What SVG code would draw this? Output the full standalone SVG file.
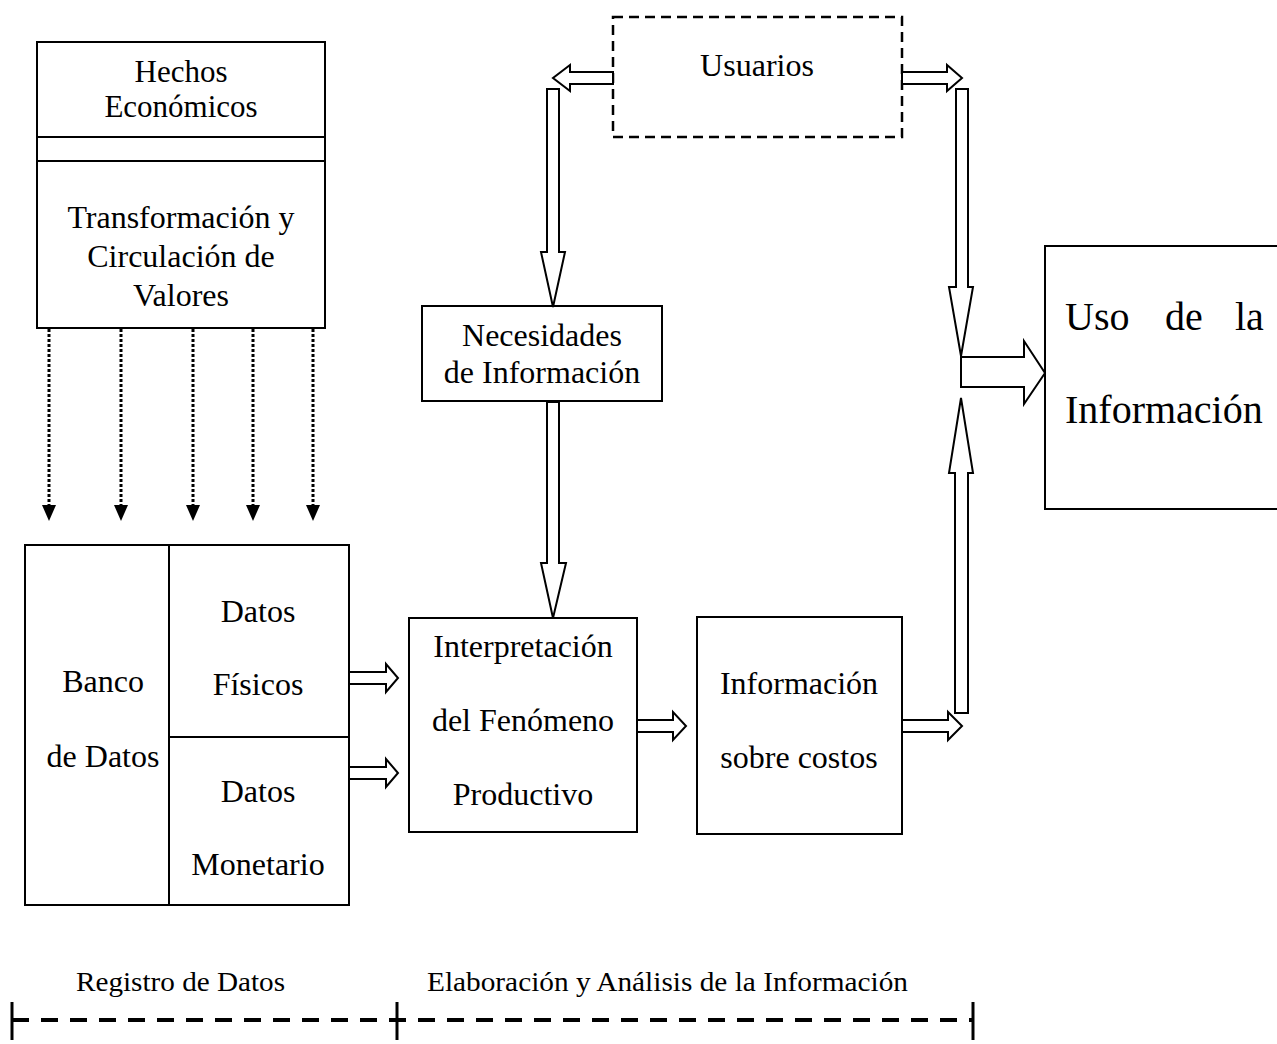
<svg xmlns="http://www.w3.org/2000/svg" width="1277" height="1044" viewBox="0 0 1277 1044">
<defs>
<style>
.box{fill:#fff;stroke:#000;stroke-width:2}
.dbox{fill:#fff;stroke:#000;stroke-width:2.5;stroke-dasharray:10 6}
.t{font-family:"Liberation Serif","Times New Roman",serif;font-size:32px;fill:#000;text-anchor:middle}
.s{font-size:31px}
.big{font-family:"Liberation Serif","Times New Roman",serif;font-size:40px;fill:#000}
.ft{font-family:"Liberation Serif","Times New Roman",serif;font-size:28px;fill:#000}
.hollow{fill:#fff;stroke:#000;stroke-width:2;stroke-linejoin:miter}
.dot{stroke:#000;stroke-width:3;stroke-dasharray:3 2;fill:none}
.ln{stroke:#000;stroke-width:2;fill:none}
</style>
<marker id="tri" markerWidth="16" markerHeight="14" refX="0" refY="7" orient="auto" markerUnits="userSpaceOnUse" viewBox="0 0 16 14">
<path d="M0,0 L16,7 L0,14 Z" fill="#000"/>
</marker>
</defs>
<rect width="1277" height="1044" fill="#fff"/>

<g id="hechos">
<rect class="box" x="37" y="42" width="288" height="286"/>
<line class="ln" x1="37" y1="137" x2="325" y2="137"/>
<line class="ln" x1="37" y1="161" x2="325" y2="161"/>
<text class="t s" x="181" y="82">Hechos</text>
<text class="t s" x="181" y="117">Económicos</text>
<text class="t" x="181" y="228">Transformación y</text>
<text class="t" x="181" y="267">Circulación de</text>
<text class="t" x="181" y="306">Valores</text>
</g>

<g id="usuarios">
<rect class="dbox" x="613" y="17" width="289" height="120"/>
<text class="t" x="757" y="76">Usuarios</text>
</g>

<g id="necesidades">
<rect class="box" x="422" y="306" width="240" height="95"/>
<text class="t" x="542" y="346">Necesidades</text>
<text class="t" x="542" y="383">de Información</text>
</g>

<g id="banco">
<rect class="box" x="25" y="545" width="324" height="360"/>
<line class="ln" x1="169" y1="545" x2="169" y2="905"/>
<line class="ln" x1="169" y1="737" x2="349" y2="737"/>
<text class="t" x="103" y="692">Banco</text>
<text class="t" x="103" y="767">de Datos</text>
<text class="t" x="258" y="622">Datos</text>
<text class="t" x="258" y="695">Físicos</text>
<text class="t" x="258" y="802">Datos</text>
<text class="t" x="258" y="875">Monetario</text>
</g>

<g id="interpretacion">
<rect class="box" x="409" y="618" width="228" height="214"/>
<text class="t" x="523" y="657">Interpretación</text>
<text class="t" x="523" y="731">del Fenómeno</text>
<text class="t" x="523" y="805">Productivo</text>
</g>

<g id="informacion">
<rect class="box" x="697" y="617" width="205" height="217"/>
<text class="t" x="799" y="694">Información</text>
<text class="t" x="799" y="768">sobre costos</text>
</g>

<g id="uso">
<rect class="box" x="1045" y="246" width="240" height="263"/>
<text class="big" x="1065" y="330">Uso</text>
<text class="big" x="1165" y="330">de</text>
<text class="big" x="1235" y="330">la</text>
<text class="big" x="1065" y="423">Información</text>
</g>

<g id="connectors">
<line class="dot" x1="49" y1="329" x2="49" y2="505" marker-end="url(#tri)"/>
<line class="dot" x1="121" y1="329" x2="121" y2="505" marker-end="url(#tri)"/>
<line class="dot" x1="193" y1="329" x2="193" y2="505" marker-end="url(#tri)"/>
<line class="dot" x1="253" y1="329" x2="253" y2="505" marker-end="url(#tri)"/>
<line class="dot" x1="313" y1="329" x2="313" y2="505" marker-end="url(#tri)"/>

<polygon class="hollow" points="613,72 570,72 570,65 553,78 570,91 570,84 613,84"/>
<polygon class="hollow" points="547,89 559,89 559,252 565,252 553,307 541,252 547,252"/>
<polygon class="hollow" points="547,402 559,402 559,563 566,563 553,618 541,563 547,563"/>

<polygon class="hollow" points="902,72 947,72 947,65 962,78 947,91 947,84 902,84"/>
<polygon class="hollow" points="956,89 968,89 968,287 973,287 961,356 949,287 956,287"/>
<polygon class="hollow" points="955,713 968,713 968,473 973,473 961,398 949,473 955,473"/>
<polygon class="hollow" points="961,357 1024,357 1024,341 1045,373 1024,404 1024,387 961,387"/>

<polygon class="hollow" points="349,672 386,672 386,664 398,678 386,692 386,684 349,684"/>
<polygon class="hollow" points="349,767 386,767 386,759 398,773 386,787 386,779 349,779"/>
<polygon class="hollow" points="637,720 673,720 673,712 686,726 673,740 673,732 637,732"/>
<polygon class="hollow" points="902,720 948,720 948,712 962,726 948,740 948,732 902,732"/>
</g>

<g id="timeline">
<text class="ft" x="76" y="991" textLength="209" lengthAdjust="spacingAndGlyphs">Registro de Datos</text>
<text class="ft" x="427" y="991" textLength="481" lengthAdjust="spacingAndGlyphs">Elaboración y Análisis de la Información</text>
<line x1="12" y1="1020" x2="973" y2="1020" stroke="#000" stroke-width="4" stroke-dasharray="17 12"/>
<line x1="12" y1="1002" x2="12" y2="1040" stroke="#000" stroke-width="3"/>
<line x1="397" y1="1002" x2="397" y2="1040" stroke="#000" stroke-width="3"/>
<line x1="973" y1="1002" x2="973" y2="1040" stroke="#000" stroke-width="3"/>
</g>
</svg>
